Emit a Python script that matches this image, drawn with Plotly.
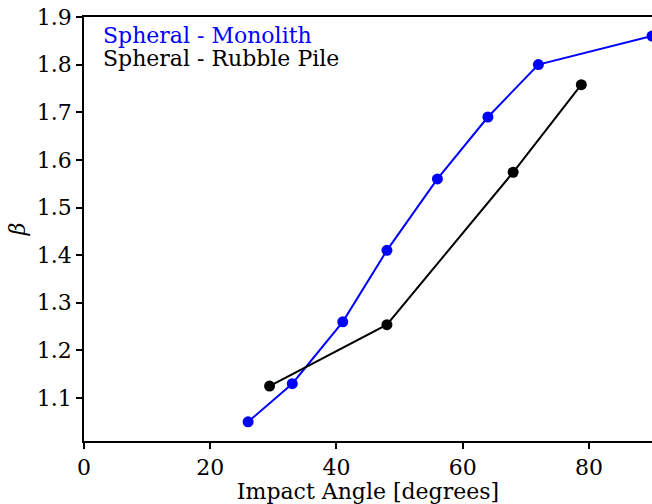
import plotly.graph_objects as go

mono_angle = [26, 33, 41, 48, 56, 64, 72, 90]
mono_beta = [1.05, 1.13, 1.26, 1.41, 1.56, 1.69, 1.80, 1.86]
rubble_angle = [29.4, 48, 68, 78.8]
rubble_beta = [1.125, 1.254, 1.574, 1.758]

font = "DejaVu Serif"
fs = 22
fig = go.Figure()
fig.add_trace(go.Scatter(x=mono_angle, y=mono_beta, mode="lines+markers",
                         line=dict(color="#0000ff", width=2),
                         marker=dict(color="#0000ff", size=11),
                         cliponaxis=False, name="Spheral - Monolith"))
fig.add_trace(go.Scatter(x=rubble_angle, y=rubble_beta, mode="lines+markers",
                         line=dict(color="black", width=2),
                         marker=dict(color="black", size=11),
                         cliponaxis=False, name="Spheral - Rubble Pile"))

fig.add_annotation(x=0.03, y=0.9575, xref="paper", yref="paper", xanchor="left", yanchor="middle",
                   text="Spheral - Monolith", showarrow=False,
                   font=dict(family=font, size=fs, color="#0000ff"))
fig.add_annotation(x=0.03, y=0.901, xref="paper", yref="paper", xanchor="left", yanchor="middle",
                   text="Spheral - Rubble Pile", showarrow=False,
                   font=dict(family=font, size=fs, color="black"))

axis_common = dict(showline=True, linecolor="black", linewidth=1.5, mirror=True,
                   ticks="outside", ticklen=6, tickwidth=1.5, tickcolor="black",
                   showgrid=False, zeroline=False, automargin=False,
                   ticklabeloverflow="allow",
                   tickfont=dict(family=font, size=fs, color="black"))
fig.update_xaxes(range=[0, 90], tickvals=[0, 20, 40, 60, 80],
                 title=dict(text="Impact Angle [degrees]", font=dict(family=font, size=fs, color="black"), standoff=4),
                 **axis_common)
fig.update_yaxes(range=[1.0097, 1.9], tickvals=[1.1, 1.2, 1.3, 1.4, 1.5, 1.6, 1.7, 1.8, 1.9],
                 tickformat=".1f",
                 title=dict(text="<i>β</i>", font=dict(family=font, size=fs, color="black"), standoff=5),
                 **axis_common)
fig.update_layout(width=652, height=504, margin=dict(l=84, r=0, t=17, b=63),
                  plot_bgcolor="white", paper_bgcolor="white", showlegend=False)
fig.write_html("out.html", config={"displayModeBar": False},
               post_script="document.body.style.margin='0';document.body.style.overflow='hidden';")
